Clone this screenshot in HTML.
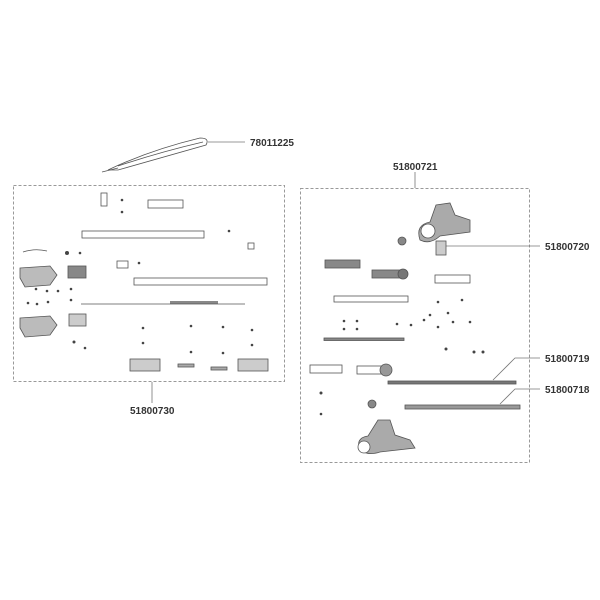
<!DOCTYPE html>
<html><head><style>
html,body{margin:0;padding:0;background:#fff;}
svg{display:block;}
text{font-family:"Liberation Sans",Arial,sans-serif;font-weight:bold;font-size:10px;fill:#333;}
</style></head><body>
<svg width="600" height="600" viewBox="0 0 600 600" xmlns="http://www.w3.org/2000/svg">
<g fill="none" stroke="#999" stroke-width="1" stroke-dasharray="3,2">
<rect x="13.5" y="185.5" width="271" height="196"/>
<rect x="300.5" y="188.5" width="229" height="274"/>
</g>
<g stroke="#777" stroke-width="0.8" fill="none">
<line x1="208" y1="142" x2="245" y2="142"/>
<line x1="152" y1="382" x2="152" y2="403"/>
<line x1="415" y1="172" x2="415" y2="188"/>
<line x1="445" y1="246" x2="540" y2="246"/>
<polyline points="493,380 515,358 540,358"/>
<polyline points="500,404 515,389 540,389"/>
</g>
<text x="250" y="146">78011225</text>
<text x="130" y="414">51800730</text>
<text x="393" y="170">51800721</text>
<text x="545" y="250">51800720</text>
<text x="545" y="362">51800719</text>
<text x="545" y="393">51800718</text>
<!-- strap -->
<g stroke="#555" stroke-width="0.8" fill="none">
<path d="M108,170 Q150,150 200,138 Q210,138 206,145 Q160,158 118,170 Z"/>
<path d="M118,166 Q160,152 203,142"/>
<line x1="102" y1="172" x2="118" y2="168"/>
</g>
<!-- left box parts -->
<g stroke="#555" stroke-width="0.8" fill="#fff">
<rect x="148" y="200" width="35" height="8"/>
<rect x="82" y="231" width="122" height="7"/>
<rect x="134" y="278" width="133" height="7"/>
<rect x="101" y="193" width="6" height="13"/>
<rect x="117" y="261" width="11" height="7"/>
<rect x="248" y="243" width="6" height="6"/>
<path d="M20,268 L50,266 L57,275 L50,285 L25,287 L20,278 Z" fill="#bbb"/>
<path d="M20,318 L50,316 L57,325 L50,335 L25,337 L20,328 Z" fill="#bbb"/>
<rect x="68" y="266" width="18" height="12" fill="#888"/>
<rect x="69" y="314" width="17" height="12" fill="#ccc"/>
<path d="M23,252 Q35,248 47,251" fill="none"/>
<rect x="130" y="359" width="30" height="12" fill="#ccc"/>
<rect x="238" y="359" width="30" height="12" fill="#ccc"/>
<rect x="178" y="364" width="16" height="3" fill="#aaa"/>
<rect x="211" y="367" width="16" height="3" fill="#aaa"/>
</g>
<rect x="170" y="301" width="48" height="3" fill="#888"/>
<line x1="81" y1="304" x2="245" y2="304" stroke="#555" stroke-width="0.8"/>
<!-- right box parts -->
<g stroke="#555" stroke-width="0.8" fill="#fff">
<path d="M420,240 Q415,225 430,222 L436,205 L450,203 L455,215 L470,220 L470,232 L440,236 Q430,245 420,240 Z" fill="#aaa"/>
<circle cx="428" cy="231" r="7" fill="#fff"/>
<rect x="436" y="241" width="10" height="14" fill="#ccc"/>
<rect x="325" y="260" width="35" height="8" fill="#888"/>
<rect x="372" y="270" width="30" height="8" fill="#888"/>
<circle cx="403" cy="274" r="5" fill="#777"/>
<rect x="435" y="275" width="35" height="8"/>
<rect x="334" y="296" width="74" height="6"/>
<rect x="324" y="338" width="80" height="2.5" fill="#888"/>
<rect x="310" y="365" width="32" height="8"/>
<rect x="357" y="366" width="25" height="8"/>
<circle cx="386" cy="370" r="6" fill="#999"/>
<rect x="388" y="381" width="128" height="3" fill="#777"/>
<rect x="405" y="405" width="115" height="4" fill="#999"/>
<path d="M360,450 Q355,438 368,436 L378,420 L390,420 L395,435 L410,440 L415,448 L380,452 Q368,456 360,450 Z" fill="#aaa"/>
<circle cx="364" cy="447" r="6" fill="#fff"/>
<circle cx="372" cy="404" r="4" fill="#888"/>
<circle cx="402" cy="241" r="4" fill="#888"/>
</g>
<g fill="#444">
<circle cx="122" cy="200" r="1.3"/><circle cx="122" cy="212" r="1.3"/>
<circle cx="139" cy="263" r="1.3"/><circle cx="229" cy="231" r="1.3"/>
<circle cx="143" cy="328" r="1.3"/><circle cx="191" cy="326" r="1.3"/><circle cx="223" cy="327" r="1.3"/><circle cx="252" cy="330" r="1.3"/>
<circle cx="143" cy="343" r="1.3"/><circle cx="191" cy="352" r="1.3"/><circle cx="223" cy="353" r="1.3"/><circle cx="252" cy="345" r="1.3"/>
<circle cx="36" cy="289" r="1.3"/><circle cx="47" cy="291" r="1.3"/><circle cx="58" cy="291" r="1.3"/><circle cx="71" cy="289" r="1.3"/>
<circle cx="28" cy="303" r="1.3"/><circle cx="37" cy="304" r="1.3"/><circle cx="48" cy="302" r="1.3"/><circle cx="71" cy="300" r="1.3"/>
<circle cx="67" cy="253" r="2"/><circle cx="80" cy="253" r="1.3"/><circle cx="74" cy="342" r="1.5"/><circle cx="85" cy="348" r="1.3"/>
<circle cx="344" cy="321" r="1.3"/><circle cx="357" cy="321" r="1.3"/><circle cx="344" cy="329" r="1.3"/><circle cx="357" cy="329" r="1.3"/>
<circle cx="397" cy="324" r="1.3"/><circle cx="411" cy="325" r="1.3"/><circle cx="424" cy="320" r="1.3"/><circle cx="430" cy="315" r="1.3"/>
<circle cx="438" cy="327" r="1.3"/><circle cx="453" cy="322" r="1.3"/><circle cx="470" cy="322" r="1.3"/><circle cx="448" cy="313" r="1.3"/>
<circle cx="438" cy="302" r="1.3"/><circle cx="462" cy="300" r="1.3"/><circle cx="321" cy="393" r="1.5"/><circle cx="321" cy="414" r="1.3"/>
<circle cx="446" cy="349" r="1.5"/><circle cx="474" cy="352" r="1.5"/><circle cx="483" cy="352" r="1.5"/>
</g>
</svg>
</body></html>
